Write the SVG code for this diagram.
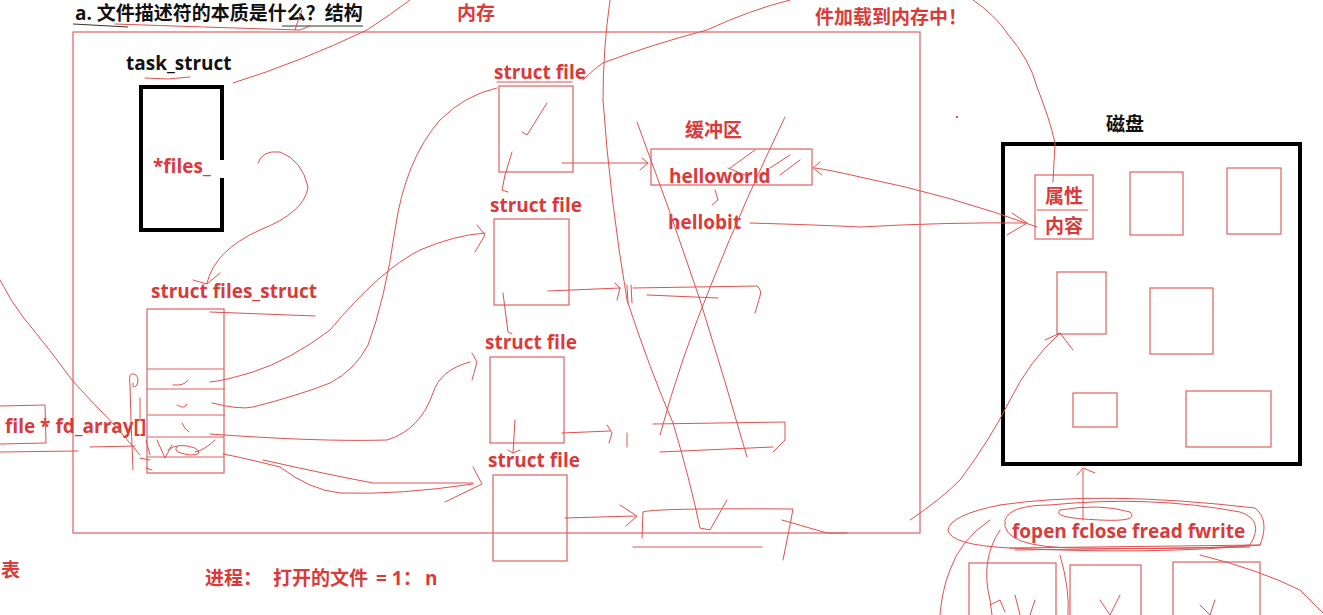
<svg xmlns="http://www.w3.org/2000/svg" width="1323" height="615" viewBox="0 0 1323 615">
<style>
.t{font-family:"Open Sans","Noto Sans CJK SC",sans-serif;font-weight:bold;font-size:19px;fill:#d93a3a}
.k{font-family:"Open Sans","Noto Sans CJK SC",sans-serif;font-weight:bold;font-size:19px;fill:#111}
.box{fill:none;stroke:#e06060;stroke-width:1.2}
.bk{fill:none;stroke:#000;stroke-width:4}
.s{fill:none;stroke:#e05050;stroke-width:1;stroke-linecap:round;stroke-linejoin:round}
</style>
<rect width="1323" height="615" fill="#fff"/>
<g id="title">
<text class="k" x="75" y="20">a. 文件描述符的本质是什么？结构</text>
<path d="M73 24 L128 27 M282 26 L363 26" fill="none" stroke="#333" stroke-width="1"/>
</g>
<g id="label-mem"><text class="t" x="457" y="20">内存</text></g>
<g id="label-load"><text class="t" x="815" y="24">件加载到内存中！</text></g>
<g id="memory"><rect class="box" x="73" y="32" width="847" height="501"/></g>
<g id="task_struct">
<text class="k" x="126" y="70">task_struct</text>
<path class="bk" d="M222 160 L222 87 L141 87 L141 230 L222 230 L222 178"/>
<text class="t" x="153" y="173">*files_</text>
</g>
<g id="files_struct">
<text class="t" x="151" y="298">struct files_struct</text>
<rect class="box" x="147" y="309" width="77" height="164"/>
<path class="box" d="M147 369 H224 M147 389 H225 M147 415 H225 M147 437 H224 M147 457 H224"/>
</g>
<g id="fd_array">
<text class="t" x="5" y="433">file * fd_array[]</text>
<path class="s" d="M0 406 L45 405 L46 443 L0 444"/>
</g>
<g id="file1"><text class="t" x="494" y="79">struct file</text><rect class="box" x="499" y="86" width="74" height="86"/></g>
<g id="file2"><text class="t" x="490" y="212">struct file</text><rect class="box" x="494" y="219" width="75" height="86"/></g>
<g id="file3"><text class="t" x="485" y="349">struct file</text><rect class="box" x="490" y="357" width="74" height="86"/></g>
<g id="file4"><text class="t" x="488" y="467">struct file</text><rect class="box" x="493" y="475" width="74" height="86"/></g>
<g id="buffer">
<text class="t" x="685" y="137">缓冲区</text>
<rect class="box" x="651" y="149" width="161" height="36"/>
<text class="t" x="669" y="183">helloworld</text>
<text class="t" x="668" y="229">hellobit</text>
</g>
<g id="disk">
<text class="k" x="1106" y="131">磁盘</text>
<rect class="bk" x="1003" y="144" width="297" height="320"/>
<rect class="box" x="1035" y="175" width="58" height="64"/>
<path class="s" d="M1037 210 L1088 210"/>
<text class="t" x="1045" y="203">属性</text>
<text class="t" x="1045" y="233">内容</text>
<rect class="box" x="1130" y="172" width="53" height="63"/>
<rect class="box" x="1227" y="168" width="54" height="66"/>
<rect class="box" x="1057" y="272" width="49" height="62"/>
<rect class="box" x="1150" y="288" width="63" height="66"/>
<rect class="box" x="1073" y="393" width="44" height="34"/>
<rect class="box" x="1186" y="391" width="85" height="56"/>
</g>
<g id="fopen">
<text class="t" x="1012" y="538">fopen fclose fread fwrite</text>
<rect class="box" x="969" y="563" width="87" height="60"/>
<rect class="box" x="1070" y="565" width="71" height="60"/>
<rect class="box" x="1173" y="562" width="87" height="60"/>
</g>
<g id="note"><text class="t" y="585"><tspan x="205">进程：</tspan><tspan x="273">打开的文件</tspan><tspan x="376">= 1：</tspan><tspan x="425">n</tspan></text></g>
<g id="label-biao"><text class="t" x="1" y="577">表</text></g>
<g id="connectors">
<path class="s" d="M115 24 Q200 27 300 30 L310 26 M295 30 Q298 20 302 10"/>
<path class="s" d="M145 78 L168 79 L190 77"/>
<path class="s" d="M233 83 Q300 62 367 30 Q390 15 410 0"/>
<path class="s" d="M258 163 Q262 150 280 152 Q302 160 308 187 Q305 212 260 230 Q215 250 207 283 M193 280 L207 284 L220 273"/>
<path class="s" d="M210 312 L315 316"/>
<path class="s" d="M0 280 Q10 300 23 317 Q50 350 72 380 Q90 400 100 410 Q115 425 140 455"/>
<path class="s" d="M0 452 L78 451 M90 447 L135 446"/>
<path class="s" d="M133 470 L131 420 L130 385 Q128 372 134 374 Q140 376 137 385 Q132 390 133 383 M140 398 L140 420 M146 440 L150 455 M140 458 L150 460 M146 468 L152 470"/>
<path class="s" d="M173 385 Q185 386 188 380 M177 405 Q185 410 187 404 M182 423 Q185 430 189 432 M157 440 L165 458 L172 445 M168 450 Q178 442 195 448 Q205 455 190 455 Q170 452 178 446 M195 452 Q205 450 215 440"/>
<path class="s" d="M210 382 Q223 381 253 372 Q290 360 330 330 Q380 270 420 250 Q455 235 485 233 M477 225 L485 235 L475 252"/>
<path class="s" d="M212 403 Q240 410 253 407 Q300 395 330 383 Q355 370 368 345 Q385 300 395 230 Q405 160 440 120 Q465 95 497 88"/>
<path class="s" d="M210 434 Q320 442 387 440 Q420 430 433 393 Q440 370 470 362 M472 353 L477 362 L472 380"/>
<path class="s" d="M223 454 Q240 457 280 467 Q310 490 340 493 Q400 495 473 484 M263 460 Q330 475 373 483 L473 483 M473 467 L482 484 L445 502"/>
<path class="s" d="M583 80 Q595 68 603 63 Q650 45 707 30 Q750 10 790 0"/>
<path class="s" d="M497 82 L572 82"/>
<path class="s" d="M547 103 L527 135 L522 132"/>
<path class="s" d="M512 152 L505 175 L502 190 L508 192"/>
<path class="s" d="M503 293 L508 332 L512 334"/>
<path class="s" d="M515 420 L513 453 M508 450 L513 453 L520 450"/>
<path class="s" d="M562 163 L648 163 M642 158 L648 163 L640 170"/>
<path class="s" d="M548 291 L620 288 M615 283 L620 288 L617 300"/>
<path class="s" d="M562 433 L610 431 M607 425 L612 433 L609 443 M627 433 L627 447"/>
<path class="s" d="M565 518 L635 516 M620 505 L637 516 L626 526"/>
<path class="s" d="M633 288 L757 286 Q762 290 760 296 L755 313 M647 295 L718 298 M627 285 L628 303 M631 285 L632 303"/>
<path class="s" d="M653 424 L785 422 L785 440 L773 452 M660 452 L773 447"/>
<path class="s" d="M643 512 Q650 508 793 509 L790 525 L783 560 M643 512 L642 538 M633 547 L762 547 M782 520 L827 533 L847 533"/>
<path class="s" d="M610 0 Q603 50 603 100 Q610 200 627 300 Q650 370 673 423 Q690 480 700 528 L710 530 L727 500"/>
<path class="s" d="M637 122 Q670 210 700 300 Q725 380 747 457"/>
<path class="s" d="M785 117 Q745 200 713 280 Q680 360 660 435"/>
<path class="s" d="M730 168 L755 150 M728 168 L745 175 M770 168 L790 155 M800 160 L780 175 M715 190 L718 200 L712 205"/>
<path class="s" d="M815 168 Q830 170 860 177 Q950 195 1037 227 M820 162 L813 168 L822 175"/>
<path class="s" d="M750 223 Q820 225 860 227 Q950 222 1025 223 M1012 213 L1027 223 L1007 235"/>
<path class="s" d="M973 0 Q995 15 1007 33 Q1030 60 1037 87 Q1050 120 1055 143 L1053 182"/>
<path class="s" d="M910 520 Q940 500 960 480 Q990 440 1010 400 Q1030 360 1060 333 M1045 340 L1060 333 L1073 350"/>
<path class="s" d="M1083 470 L1083 520 M1077 475 L1083 468 L1095 473"/>
<path class="s" d="M1050 505 Q1010 505 1005 520 Q1000 548 1080 548 Q1200 550 1250 545 Q1265 520 1240 512 Q1150 495 1050 505"/>
<path class="s" d="M1000 505 Q950 515 948 530 Q950 545 1010 548 Q1150 555 1260 545 Q1270 520 1255 508 Q1100 490 1000 505"/>
<path class="s" d="M1060 510 Q1050 518 1100 520 Q1140 522 1130 512 Q1100 503 1060 510"/>
<path class="s" d="M1010 548 L1260 545 M1015 550 L1250 547"/>
<path class="s" d="M990 520 Q960 540 950 570 Q942 590 940 615 M1000 530 Q980 560 990 600 L992 615 M1060 555 Q1070 590 1068 615 M1200 555 Q1260 570 1300 590 L1323 613"/>
<path class="s" d="M990 605 L1000 600 L1005 612 M1015 595 L1020 615 M1035 600 L1030 615 M1100 600 L1110 615 L1120 595 M1200 605 L1210 615 L1215 600"/>
<rect x="956" y="116" width="2" height="2" fill="#e05050"/>
</g>
</svg>
